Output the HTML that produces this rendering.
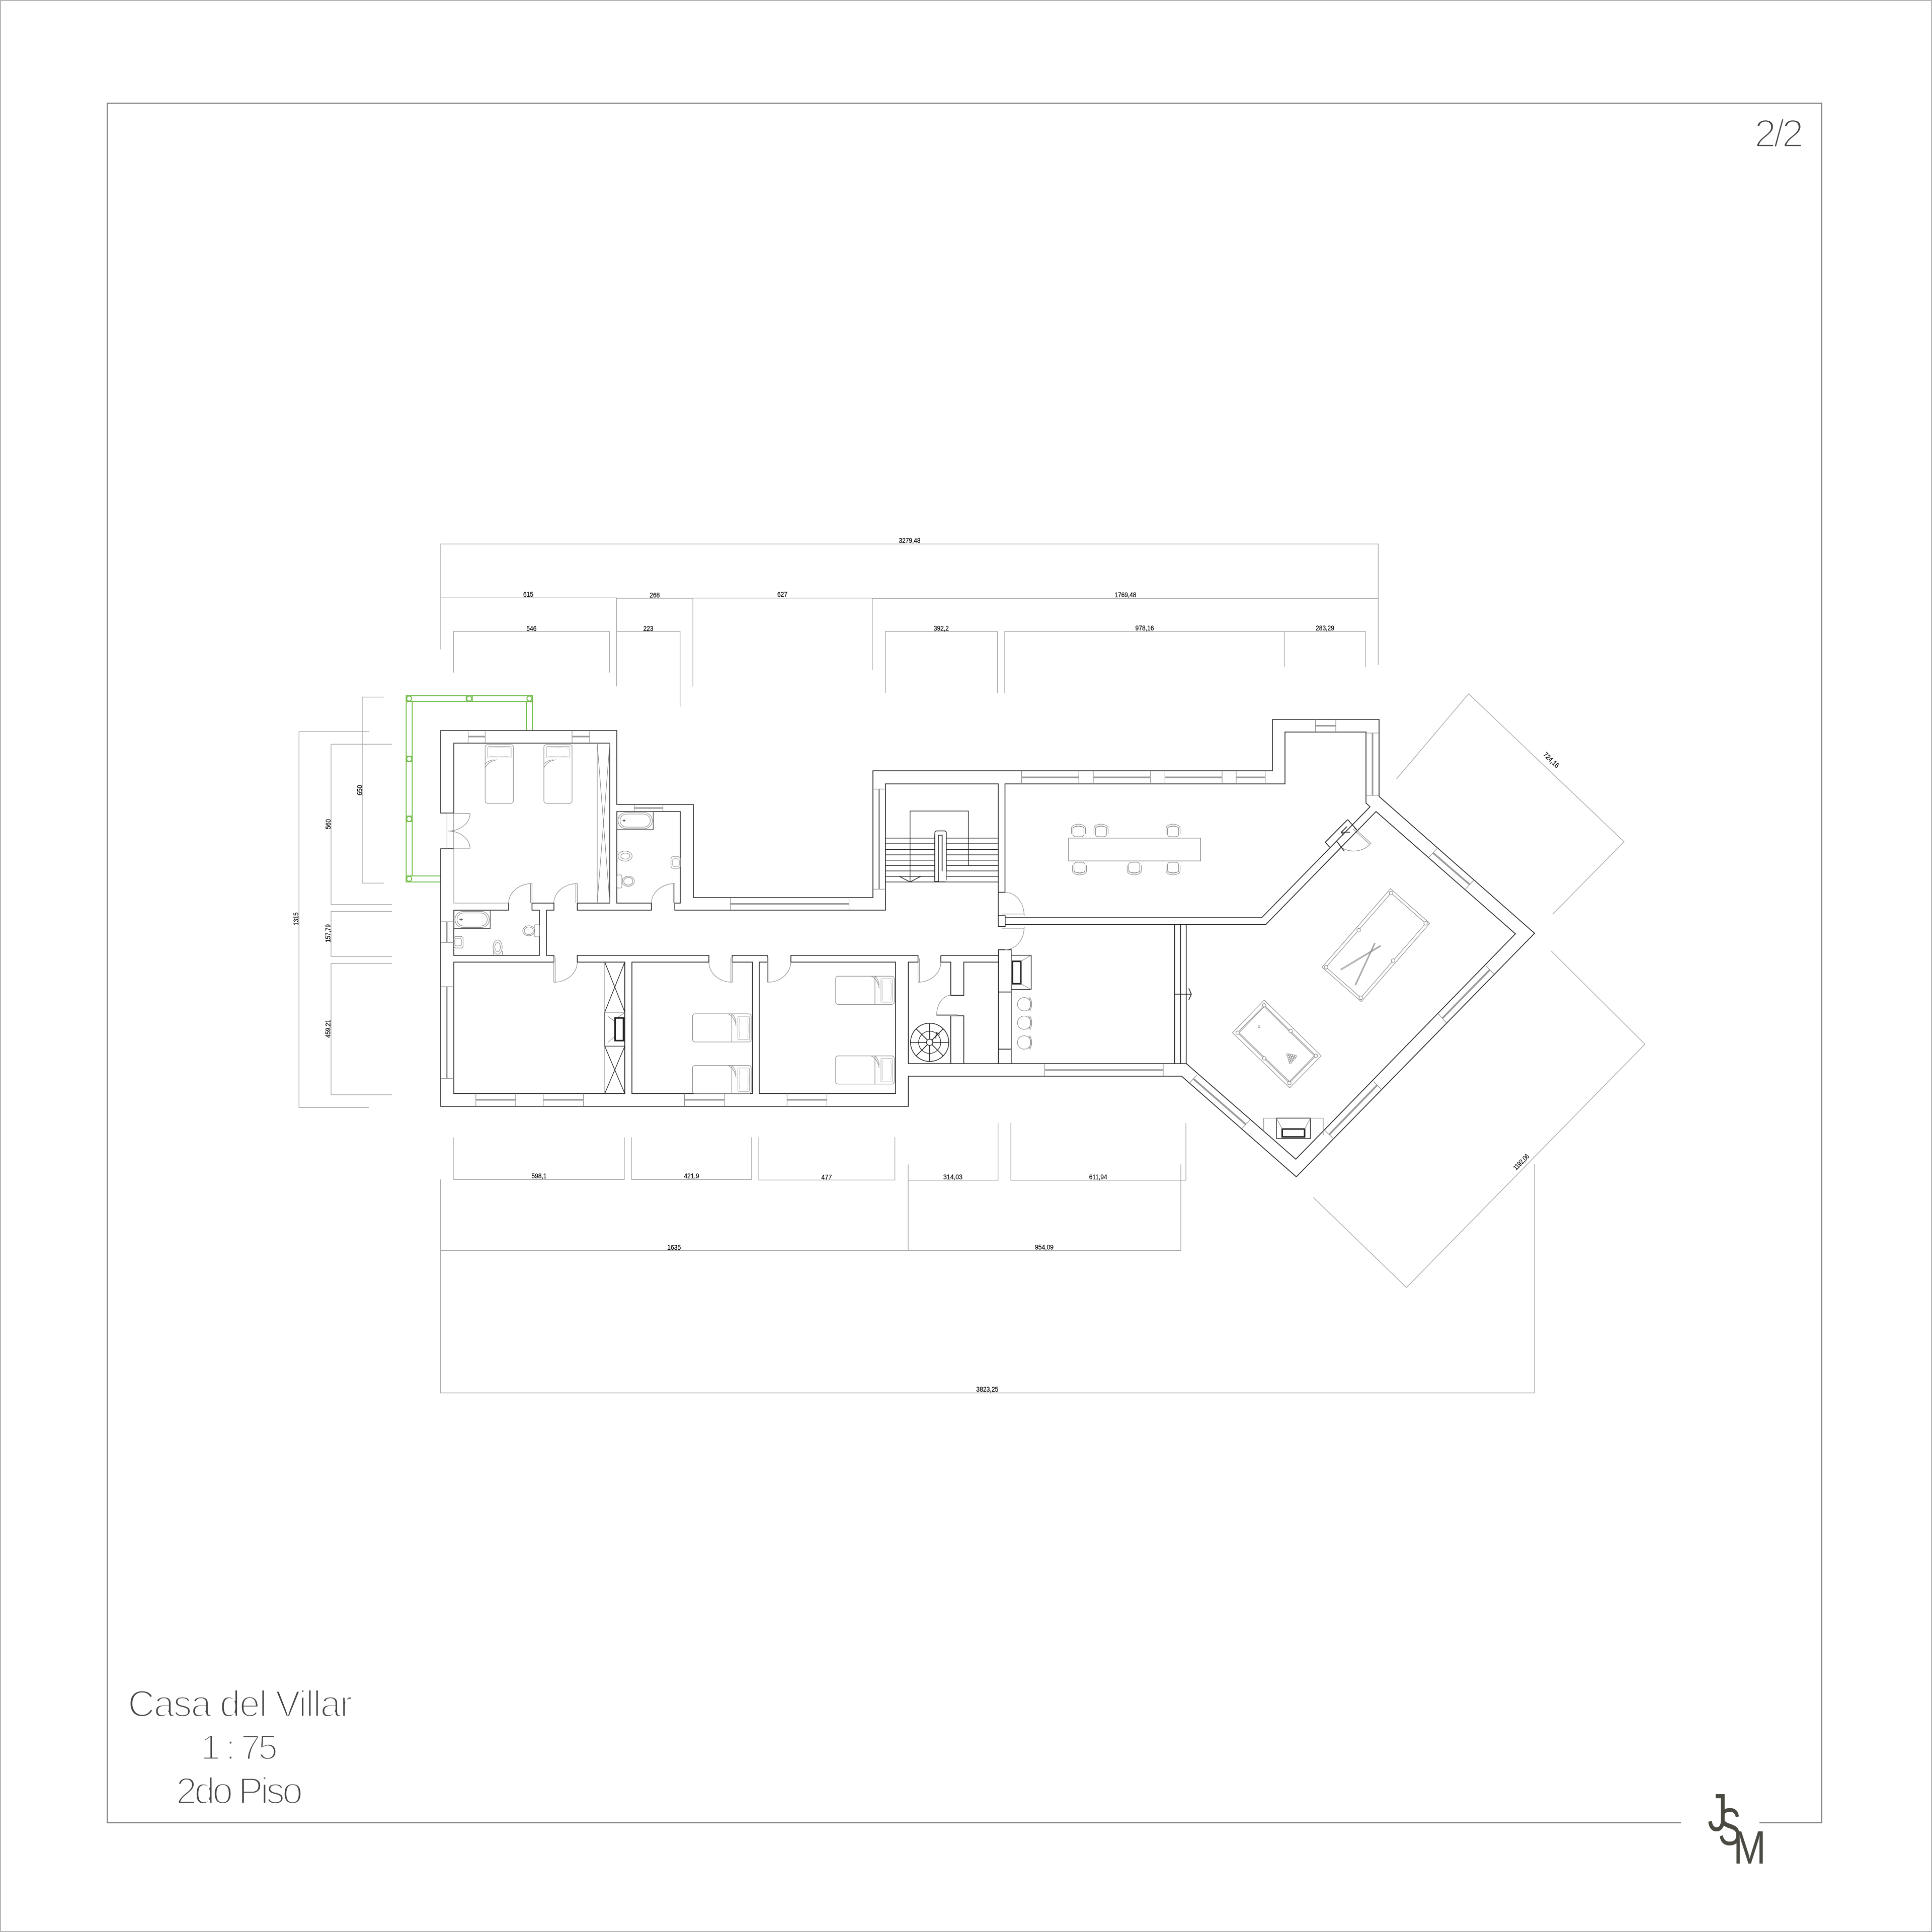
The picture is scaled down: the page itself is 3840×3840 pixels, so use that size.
<!DOCTYPE html>
<html>
<head>
<meta charset="utf-8">
<title>Casa del Villar</title>
<style>
html,body{margin:0;padding:0;background:#fff}
svg{display:block}
.w{fill:none;stroke:#222;stroke-width:1.6;stroke-linejoin:miter}
.t{fill:none;stroke:#8a8a8a;stroke-width:1.1}
.g{fill:none;stroke:#6dbb45;stroke-width:1.8}
.d{fill:none;stroke:#aaa;stroke-width:1.4}
.wg{fill:none;stroke:#999;stroke-width:3}
.k{fill:none;stroke:#222;stroke-width:3}
.n{font-family:"Liberation Sans",sans-serif;font-size:14px;fill:#000;stroke:#000;stroke-width:.25;text-anchor:middle}
.ti{font-family:"Liberation Sans",sans-serif;fill:#444;stroke:#fff;stroke-width:3.4}
.lg{font-family:"Liberation Sans",sans-serif;fill:#4b4a42}
</style>
</head>
<body>
<svg xmlns="http://www.w3.org/2000/svg" width="3840" height="3840" viewBox="0 0 3840 3840">
<defs>
<g id="bed"><rect class="t" x="0" y="0" width="56" height="116.6" rx="5"/><rect x="5" y="3.5" width="46.6" height="23" rx="2" fill="none" stroke="#aaa" stroke-width="1"/><path d="M8 7Q28 5 48 7M8 23Q28 25 48 23" fill="none" stroke="#bbb" stroke-width=".8"/><path class="t" d="M0 38.5H56M0 46Q6 33 24 30M0 38Q8 31 18 30"/></g>
<g id="tub"><rect x="0" y="0" width="72" height="36" fill="none" stroke="#555" stroke-width="1.4"/><rect class="t" x="2" y="2" width="68" height="32" rx="16"/><rect class="t" x="6" y="5" width="60" height="26" rx="13"/><path d="M14 18m-4 0l3-1 1-3 1 3 3 1-3 1-1 3-1-3z" fill="#555"/></g>
<g id="chair"><rect class="t" x="-11" y="-10" width="22" height="20" rx="5"/><path class="t" d="M-14 4V-6Q-14 -14 0 -15Q14 -14 14 -6V4M-11 -8Q0 -15 11 -8"/></g>
<g id="stool"><ellipse class="t" cx="0" cy="0" rx="13.4" ry="13.3"/><path class="t" d="M9 -13Q16 0 9 13M11 -14Q19 0 11 14"/></g>
</defs>
<rect width="3840" height="3840" fill="#fff"/>
<rect x="1" y="1" width="3838" height="3838" fill="none" stroke="#b5b5b5" stroke-width="2"/>

<!-- frame -->
<path d="M3341 3623H213V205H3621V3623H3497" fill="none" stroke="#777" stroke-width="2"/>

<!-- titles -->
<text class="ti" x="3487" y="292" font-size="78" textLength="98">2/2</text>
<text class="ti" x="254" y="3412" font-size="74" textLength="446">Casa del Villar</text>
<text class="ti" x="399" y="3497" font-size="70" textLength="153" xml:space="preserve">1 : 75</text>
<text class="ti" x="350" y="3585" font-size="74" textLength="252">2do Piso</text>

<!-- logo -->
<text class="lg" font-size="106" transform="translate(3394,3639) scale(.75,1)">J</text>
<text class="lg" font-size="105" transform="translate(3415,3667) scale(.65,1)">S</text>
<text class="lg" font-size="93" transform="translate(3445,3704) scale(.84,1)">M</text>

<!-- dimension lines -->
<g class="d">
<path d="M876 1290.7V1081.3H2739.4V1321.7"/>
<path d="M876 1188.3H1225.4V1364.3M1225.4 1189H1377.2V1364.3M1377.2 1188.7H1733.7V1331.7M1733.7 1189.3H2739.4"/>
<path d="M901.5 1336.7V1255H1211.4V1336.7M1225.4 1255H1351.7V1404.7M1759.9 1377.3V1255H1982.4V1377.3M1997 1377.3V1255H2713.9V1325.7M2552.6 1255V1325.7"/>
<path d="M734 1453.9H594.3V2201.3H734M762.7 1385.6H720V1755.3H762.7M779 1479.2H658V1797.8H779M779 1811.5H658V1901H779M779 1915H658V2176H779"/>
<path d="M901 2260.5V2344.3H1240.8V2260.5M1255 2260.5V2344.3H1493.9V2260.5M1508.2 2260.5V2345.4H1778.6V2260.5M1805.1 2314.4V2485.5M1805.1 2345.8H1983.7V2231.8M2009.2 2231.8V2345.8H2357.1V2231.8M875.5 2344.3V2768.5H3050V2313.6M875.5 2485.5H2347V2314.4"/>
<path d="M2610.6 2380.3L2795.5 2559L3269.4 2075.5L3083 1890"/>
<path d="M2775.8 1548L2919 1379L3228 1673L3086 1817"/>
</g>
<g>
<text class="n" x="1808" y="1079" textLength="43" lengthAdjust="spacingAndGlyphs">3279,48</text>
<text class="n" x="1050" y="1186" textLength="20" lengthAdjust="spacingAndGlyphs">615</text>
<text class="n" x="1301.3" y="1187.5" textLength="20" lengthAdjust="spacingAndGlyphs">268</text>
<text class="n" x="1555" y="1186" textLength="20" lengthAdjust="spacingAndGlyphs">627</text>
<text class="n" x="2236.9" y="1187" textLength="43" lengthAdjust="spacingAndGlyphs">1769,48</text>
<text class="n" x="1056.4" y="1254" textLength="20" lengthAdjust="spacingAndGlyphs">546</text>
<text class="n" x="1288.6" y="1254" textLength="20" lengthAdjust="spacingAndGlyphs">223</text>
<text class="n" x="1870.8" y="1253.5" textLength="30" lengthAdjust="spacingAndGlyphs">392,2</text>
<text class="n" x="2275" y="1253" textLength="37" lengthAdjust="spacingAndGlyphs">978,16</text>
<text class="n" x="2633.5" y="1253" textLength="37" lengthAdjust="spacingAndGlyphs">283,29</text>
<text class="n" x="1071.4" y="2342" textLength="30" lengthAdjust="spacingAndGlyphs">598,1</text>
<text class="n" x="1374.5" y="2342" textLength="30" lengthAdjust="spacingAndGlyphs">421,9</text>
<text class="n" x="1642.9" y="2344.5" textLength="21" lengthAdjust="spacingAndGlyphs">477</text>
<text class="n" x="1893.9" y="2344" textLength="38" lengthAdjust="spacingAndGlyphs">314,03</text>
<text class="n" x="2182.7" y="2344" textLength="36" lengthAdjust="spacingAndGlyphs">611,94</text>
<text class="n" x="1339.8" y="2484" textLength="27" lengthAdjust="spacingAndGlyphs">1635</text>
<text class="n" x="2075.5" y="2483.5" textLength="37" lengthAdjust="spacingAndGlyphs">954,09</text>
<text class="n" x="1962.3" y="2766" textLength="44" lengthAdjust="spacingAndGlyphs">3823,25</text>
<text class="n" transform="translate(593,1826.5) rotate(-90)" textLength="26" lengthAdjust="spacingAndGlyphs">1315</text>
<text class="n" transform="translate(719.5,1570.4) rotate(-90)" textLength="20.6" lengthAdjust="spacingAndGlyphs">650</text>
<text class="n" transform="translate(657,1638) rotate(-90)" textLength="20" lengthAdjust="spacingAndGlyphs">560</text>
<text class="n" transform="translate(656.5,1855) rotate(-90)" textLength="36" lengthAdjust="spacingAndGlyphs">157,79</text>
<text class="n" transform="translate(656.5,2044.6) rotate(-90)" textLength="36" lengthAdjust="spacingAndGlyphs">459,21</text>
<text class="n" transform="translate(3027,2313) rotate(-45.5)" textLength="38" lengthAdjust="spacingAndGlyphs">1192,06</text>
<text class="n" transform="translate(3080,1514) rotate(44)" textLength="38" lengthAdjust="spacingAndGlyphs">724,16</text>
</g>

<!-- green pergola -->
<g class="g">
<path d="M1046.3 1452V1394.2H819.3V1741H876M1058.3 1452V1382.7H807.3V1753H876"/>
<circle cx="813.3" cy="1388.5" r="5"/><circle cx="932.7" cy="1388.5" r="5"/><circle cx="1052.3" cy="1388.5" r="5"/>
<circle cx="813.3" cy="1508.4" r="5"/><circle cx="813.3" cy="1627.8" r="5"/><circle cx="813.3" cy="1746.7" r="5"/>
<path d="M926.7 1382.7V1394.2M938.7 1382.7V1394.2M807.3 1394.2H819.3M807.3 1503H819.3M807.3 1514H819.3M807.3 1622H819.3M807.3 1633H819.3M807.3 1741H819.3M1046.3 1394.2H1058.3"/>
</g>

<!-- walls -->
<g class="w">
<path d="M902 1616H876V1452H1226V1599H1378V1784H1735V1532H2529V1430H2741V1583L3050 1855L2576.5 2339L2348.5 2139H1805.4V2199H876V1687H902"/>
<path d="M902 1616V1477H1212V1795H1147.4V1809H1294.7V1795H1226V1613H1352V1795H1341.2V1809H1760V1558H1984V1773.5H1997.5V1558H2554V1455H2715V1596L2723 1603.6L2507.7 1824H1997.5"/>
<path d="M1984 1773.5V1820M1984 1820H1997.8V1841.7H1984V1820"/>
<path d="M1997.8 1837.7H2515.8L2735 1613L3012 1856L2575.5 2304L2358 2114H1805.4V1912.3H1824.6V1899H1572V1912.3H1780V2173.5H1509V1912.3H1525V1899H1455.4V1912.3H1495.6V2173.5H1256V1912.3H1409V1899H1147.4V1912.3H1241.8V2173.5H902V1912.3H1101V1899H1086V1809H1101V1795H1057.4V1809H1072V1899H902V1809H1011V1795"/>
<path d="M1870 1899H1984.4V1887.7H2009.8V2114M1984.4 1899V2114M1870 1899V1912.3H1889.7V1978.3H1915.6V1912.3H1984.4M1889.7 2114V2019H1915.6V2114M1984.4 1971.7H2009.8M1984.4 2085.3H2009.8"/>
<path d="M2334.7 1837.7V2114M2346.4 1837.7V2114M2357.7 1837.7V2114"/>
<path d="M2334.7 1976H2367.9M2362.8 1964.3L2367.9 1976L2362.8 1987.3"/>
</g>
<path class="t" d="M902 1687V1795H1011"/>

<!-- windows horizontal -->
<g class="t">
<path d="M930.5 1452V1477M964.3 1452V1477M1137 1452V1477M1172 1452V1477M1260.9 1599V1612.7M1317.6 1599V1612.7M1451.6 1784V1809M1687.5 1784V1809"/>
<path d="M2030.5 1532V1558M2144.2 1532V1558M2173 1532V1558M2286.7 1532V1558M2315.4 1532V1558M2429 1532V1558M2457 1532V1558M2514.7 1532V1558M2614.4 1430V1455M2655 1430V1455"/>
<path d="M945.8 2173.5V2199M1024.9 2173.5V2199M1079.7 2173.5V2199M1159.5 2173.5V2199M1360.4 2173.5V2199M1440 2173.5V2199M1564.4 2173.5V2199M1643.5 2173.5V2199M2076.3 2114V2139M2312 2114V2139"/>
<path d="M876 1832H902M876 1873.3H902M876 1961H902M876 2143.7H902M1735 1568.4H1760M1735 1767.3H1760M2715 1457H2741M2715 1581H2741"/>
<path d="M2840.8 1703L2856 1686.7M2913 1766.8L2928.6 1750M2953 1919L2969.4 1936M2858.7 2015.3L2875 2033M2730 2149.5L2745 2164.8M2632.7 2246.4L2650.5 2263.3M2379 2136.7L2364.8 2152M2483.7 2227L2468.4 2242.9"/>
</g>
<g class="wg">
<path d="M930.5 1464H964.3M1137 1464H1172M1260.9 1606H1317.6M1451.6 1796.5H1687.5M2030.5 1545H2144.2M2173 1545H2286.7M2315.4 1545H2429M2457 1545H2514.7M2614.4 1442.5H2655"/>
<path d="M945.8 2186H1024.9M1079.7 2186H1159.5M1360.4 2186H1440M1564.4 2186H1643.5M2076.3 2126.7H2312"/>
<path d="M888 1832V1873.3M888 1961V2143.7M1747.5 1568.4V1767.3M2728 1457V1581"/>
<path d="M2848.5 1695.4L2921 1758M2961 1927.6L2866.3 2024.5M2737 2157L2641.8 2255M2372.4 2144.4L2476 2234.7" stroke-width="3.5"/>
</g>

<!-- doors -->
<g class="t">
<path d="M888.4 1616V1687.3M901.8 1616V1687.3M888.4 1616.7H934.3A44 35 0 0 1 890 1651.7M890 1651.7A44 35 0 0 1 934.3 1686H888.4"/>
<path d="M1057.4 1756.2V1795M1054.5 1756.2V1795M1057.4 1756.2A46.5 39 0 0 0 1010.9 1795"/>
<path d="M1147.4 1756.2V1795M1144.5 1756.2V1795M1147.4 1756.2A46.5 39 0 0 0 1100.8 1795"/>
<path d="M1341.2 1756.2V1795M1338.3 1756.2V1795M1341.2 1756.2A46.5 39 0 0 0 1294.7 1795"/>
<path d="M1100.8 1903V1952.3M1103.5 1903V1952.3M1100.8 1952.3A46.6 40 0 0 0 1147.4 1912.3"/>
<path d="M1455.4 1903V1952.3M1452.7 1903V1952.3M1455.4 1952.3A46.5 40 0 0 1 1408.9 1912.3"/>
<path d="M1525.6 1903V1952.3M1528.3 1903V1952.3M1525.6 1952.3A46 40 0 0 0 1571.6 1912.3"/>
<path d="M1824.6 1905V1952.3M1827.3 1905V1952.3M1824.6 1952.3A45.4 40 0 0 0 1870 1912.3"/>
<path d="M1889.7 1978.3A28 40 0 0 0 1861.6 2018.3M1861.6 2016H1901.8V2018.5H1861.6"/>
<path d="M1997.5 1773.5A38 45 0 0 1 2035.4 1818.4M2035.4 1845A38 43 0 0 1 1997 1887.7M1991 1816.7H2035.7V1820M1991 1845H2035.7V1841.7"/>
<path d="M2691.3 1645.4L2725 1676M2689 1647.6L2722.7 1678.2M2725 1676A46 46 0 0 1 2665.3 1684"/>
</g>
<g class="w">
<path d="M2678.6 1629L2697 1649.5M2678.6 1629L2634 1674L2642.9 1684M2656.6 1672L2672 1692M2666 1654H2683.5M2666 1654L2677 1643M2666 1654L2670 1660"/>
</g>

<!-- beds -->
<use href="#bed" x="964.3" y="1480"/>
<use href="#bed" x="1081" y="1480"/>
<use href="#bed" transform="translate(1493,2015) rotate(90)"/>
<use href="#bed" transform="translate(1493,2117.7) rotate(90)"/>
<use href="#bed" transform="translate(1777.5,1940.3) rotate(90)"/>
<use href="#bed" transform="translate(1777.5,2098.7) rotate(90)"/>

<!-- closets -->
<g class="t">
<path d="M1187 1477V1795M1187 1477L1212 1795M1212 1477L1187 1795"/>
<path d="M1202 1912.3V2173.5M1208 2020L1222 2030M1208 2072L1222 2060M1240 2014L1225 2024"/>
</g>
<g class="w" style="stroke-width:1.3">
<path d="M1202 1912.3L1241.8 2011.6M1241.8 1912.3L1202 2011.6M1202 2079.4L1241.8 2173.5M1241.8 2079.4L1202 2173.5"/>
<path d="M1202 2011.6H1241.8V2079.4H1202Z"/>
</g>
<rect class="k" x="1222.5" y="2023.3" width="16.7" height="45"/>

<!-- bathrooms -->
<use href="#tub" x="902.4" y="1809.6"/>
<use href="#tub" x="1226.4" y="1613"/>
<g class="t">
<ellipse cx="1248.8" cy="1751.6" rx="12" ry="10"/><ellipse cx="1248.8" cy="1751.6" rx="9" ry="7.5"/><rect x="1226.4" y="1739" width="9.6" height="26" rx="2"/>
<ellipse cx="1242.4" cy="1701.6" rx="14" ry="10"/><ellipse cx="1243" cy="1701.6" rx="9" ry="6"/><path d="M1228 1692H1226.4M1228 1711H1226.4"/>
<rect x="1333.6" y="1702.8" width="18.4" height="23" rx="4"/><rect x="1337" y="1707" width="13" height="15" rx="3"/>
<ellipse cx="1051" cy="1850" rx="12" ry="10"/><ellipse cx="1051" cy="1850" rx="9" ry="7.5"/><rect x="1062" y="1838" width="10" height="24" rx="2"/>
<ellipse cx="989" cy="1882.5" rx="9" ry="14"/><ellipse cx="989" cy="1882.5" rx="5.5" ry="9"/><path d="M980.3 1898V1890M998.7 1898V1890"/>
<rect x="902.4" y="1861.3" width="18" height="23" rx="4"/><rect x="904" y="1865" width="13" height="15" rx="3"/>
</g>

<!-- stairs -->
<g class="w" style="stroke-width:1.3">
<path d="M1760 1665.8H1984M1760 1677H1984M1760 1688.3H1984M1760 1699H1984M1760 1709.7H1984M1760 1720.4H1984M1760 1731H1984M1760 1741.8H1984M1760 1753H1984"/>
<path d="M1808.8 1753V1612H1924.6V1720.4"/>
<path d="M1787.7 1742L1808.8 1753L1829.8 1742"/>
</g>
<rect x="1858" y="1651.5" width="23" height="100.5" rx="4" fill="#fff" stroke="#222" stroke-width="1.4"/>
<path d="M1858 1731.6H1881V1752H1858Z" fill="#fff" stroke="none"/>
<path class="w" d="M1858 1731V1752H1865V1660H1872.6V1731.6M1858 1660V1731"/>

<!-- dining -->
<rect x="2123.9" y="1665.8" width="262.4" height="45.4" fill="none" stroke="#777" stroke-width="1.2"/>
<use href="#chair" transform="translate(2143.5,1653)"/>
<use href="#chair" transform="translate(2188.4,1653)"/>
<use href="#chair" transform="translate(2331.6,1653)"/>
<use href="#chair" transform="translate(2145.6,1724) rotate(180)"/>
<use href="#chair" transform="translate(2254.4,1724) rotate(180)"/>
<use href="#chair" transform="translate(2331.6,1724) rotate(180)"/>

<!-- kitchen fireplace + stools -->
<rect x="2009.8" y="1898.7" width="39.8" height="68" fill="none" stroke="#333" stroke-width="1.5"/>
<rect class="k" x="2012.5" y="1910.7" width="16.5" height="44.6"/>
<path class="t" d="M2029 1910.7L2049.6 1898.7M2029 1955.3L2049.6 1966.7"/>
<use href="#stool" transform="translate(2035.7,1996)"/>
<use href="#stool" transform="translate(2035.7,2032.7)"/>
<use href="#stool" transform="translate(2035.7,2072)"/>

<!-- spiral stair -->
<g class="w" style="stroke-width:1.5">
<circle cx="1847.8" cy="2071.7" r="38"/>
<path d="M1841.5 2071.7H1809.8M1854.1 2071.7H1885.8M1847.8 2065.4V2033.7M1847.8 2078V2109.7M1843.3 2067.2L1820.9 2044.8M1852.3 2067.2L1874.7 2044.8M1843.3 2076.2L1820.9 2098.6M1852.3 2076.2L1874.7 2098.6"/>
<path d="M1861 2052L1868 2056M1861 2052L1860 2064"/>
<circle cx="1847.8" cy="2071.7" r="22" style="stroke-width:1.2"/>
<circle cx="1847.8" cy="2071.7" r="6.3" fill="#fff"/>
</g>

<!-- game room fireplace -->
<path class="t" d="M2511.7 2250V2222.4H2630V2256"/>
<rect x="2537" y="2222.4" width="67.6" height="40.4" fill="#fff" stroke="#333" stroke-width="1.5"/>
<rect class="k" x="2548.5" y="2244" width="44.5" height="15.7"/>
<path class="t" d="M2537 2222.4L2548.5 2244M2604.6 2222.4L2593 2244"/>

<!-- billiards upper -->
<g class="t" style="stroke:#888">
<path d="M2763.8 1766.3L2841.8 1835.2L2705.6 1990.8L2627.6 1922.4Z"/>
<path d="M2764.8 1775L2833.7 1835.2L2704.6 1983.2L2635.7 1922.4Z"/>
<circle cx="2764.8" cy="1775" r="3.6" fill="#fff"/><circle cx="2833.7" cy="1835.2" r="3.6" fill="#fff"/><circle cx="2704.6" cy="1983.2" r="3.6" fill="#fff"/><circle cx="2635.7" cy="1922.4" r="3.6" fill="#fff"/><circle cx="2700.5" cy="1849" r="3.6" fill="#fff"/><circle cx="2768.9" cy="1909.2" r="3.6" fill="#fff"/>
<path d="M2664.3 1926.5L2743.9 1879M2665.5 1928L2744.5 1880.5M2692.9 1958L2732 1874M2694.5 1958.5L2733.5 1874.5"/>
</g>
<!-- billiards lower -->
<g class="t" style="stroke:#888">
<path d="M2512.8 1987.8L2626 2098.5L2563.3 2162.2L2449.5 2052.6Z"/>
<path d="M2512.8 1998L2615.3 2098.5L2562.8 2152.6L2459.7 2052.6Z"/>
<path d="M2512.8 2001L2612.3 2098.5L2562.8 2149.6L2462.7 2052.6Z"/>
<circle cx="2512.8" cy="1998" r="3.4" fill="#fff"/><circle cx="2615.3" cy="2098.5" r="3.4" fill="#fff"/><circle cx="2562.8" cy="2152.6" r="3.4" fill="#fff"/><circle cx="2459.7" cy="2052.6" r="3.4" fill="#fff"/><circle cx="2565.3" cy="2049.5" r="3.4" fill="#fff"/><circle cx="2512.8" cy="2103.6" r="3.4" fill="#fff"/>
<circle cx="2502.6" cy="2040.8" r="2"/>
<circle cx="2559" cy="2096" r="2"/><circle cx="2563" cy="2096.8" r="2"/><circle cx="2567" cy="2097.6" r="2"/><circle cx="2571" cy="2098.4" r="2"/><circle cx="2575" cy="2099.5" r="2"/>
<circle cx="2561" cy="2100" r="2"/><circle cx="2565" cy="2101" r="2"/><circle cx="2569" cy="2102" r="2"/><circle cx="2573" cy="2103" r="2"/>
<circle cx="2562" cy="2104" r="2"/><circle cx="2566" cy="2105" r="2"/><circle cx="2570" cy="2106" r="2"/>
<circle cx="2563" cy="2108" r="2"/><circle cx="2567" cy="2109" r="2"/><circle cx="2564.5" cy="2112.5" r="2"/>
</g>
</svg>
</body>
</html>
